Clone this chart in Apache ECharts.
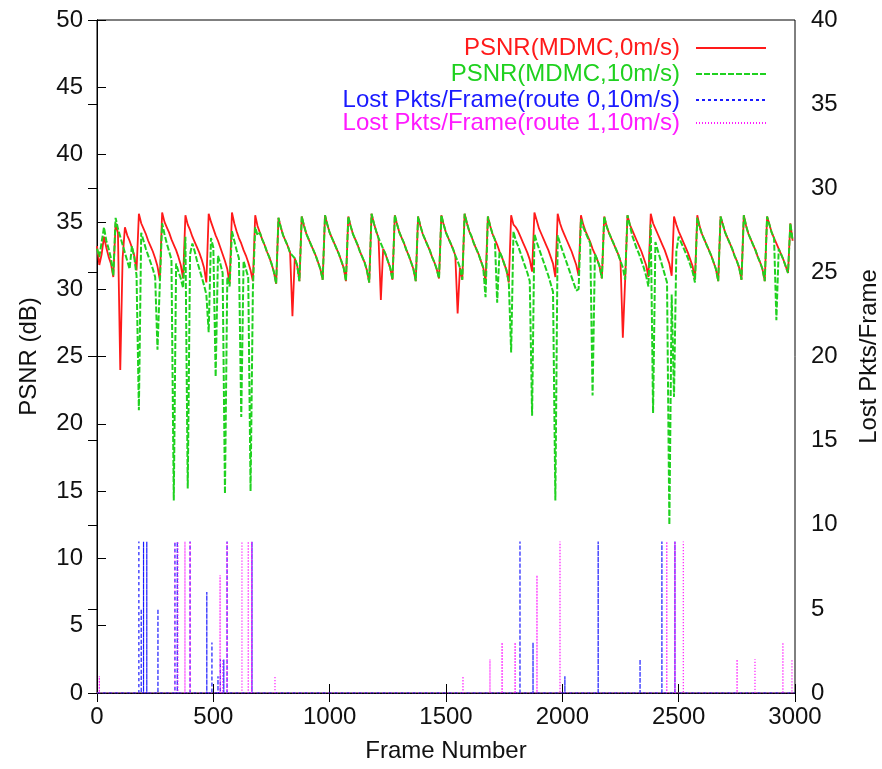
<!DOCTYPE html>
<html>
<head>
<meta charset="utf-8">
<title>PSNR / Lost Pkts per Frame</title>
<script src="https://cdn.jsdelivr.net/npm/echarts@6/dist/echarts.min.js"></script>
<style>
  html, body { margin: 0; padding: 0; background: #fff; }
  #psnrChart { width: 882px; height: 769px; }
</style>
</head>
<body>
<div id="psnrChart"></div>
<script>
// one PSNR sample every 10 frames, one row per 100 frames
const frameStep = 10;

const psnrStill = [
  33.2, 31.8, 32.6, 33.9, 33.1, 32.4, 31.9, 30.9, 34.9, 34.2,
  24.0, 32.3, 34.6, 34.0, 33.6, 33.1, 32.5, 31.4, 35.6, 34.9,
  34.5, 34.1, 33.6, 33.2, 32.8, 32.3, 31.7, 30.7, 35.7, 35.0,
  34.6, 34.2, 33.7, 33.3, 32.9, 32.4, 31.8, 30.8, 35.5, 34.8,
  34.4, 33.9, 33.5, 33.1, 32.7, 32.2, 31.6, 30.5, 35.6, 35.0,
  34.5, 34.0, 33.6, 33.1, 32.6, 32.1, 31.5, 30.4, 35.7, 34.9,
  34.3, 33.8, 33.4, 32.9, 32.5, 32.0, 31.4, 30.6, 35.5, 34.7,
  34.2, 33.7, 33.3, 32.8, 32.4, 31.9, 31.3, 30.4, 35.3, 34.6,
  34.0, 33.6, 33.2, 32.7, 28.0, 32.3, 31.8, 30.6, 35.4, 34.7,
  34.1, 33.7, 33.3, 32.9, 32.5, 32.0, 31.5, 30.7, 35.5, 34.8,
  34.2, 33.8, 33.4, 33.0, 32.6, 32.1, 31.6, 30.6, 35.4, 34.7,
  34.1, 33.7, 33.3, 32.8, 32.4, 32.0, 31.4, 30.5, 35.6, 34.9,
  34.3, 33.8, 29.2, 33.0, 32.6, 32.1, 31.6, 30.7, 35.5, 34.8,
  34.2, 33.8, 33.4, 32.9, 32.5, 32.0, 31.5, 30.6, 35.4, 34.7,
  34.1, 33.7, 33.3, 32.9, 32.4, 32.0, 31.5, 30.8, 35.5, 34.8,
  34.2, 33.8, 33.4, 33.0, 32.5, 28.2, 31.6, 30.7, 35.6, 34.9,
  34.3, 33.9, 33.4, 33.0, 32.6, 32.1, 31.6, 30.6, 35.4, 34.7,
  34.1, 33.7, 33.3, 32.8, 32.4, 31.9, 31.4, 30.5, 35.5, 34.8,
  34.6, 34.3, 33.9, 33.5, 33.1, 32.7, 32.2, 31.3, 35.7, 35.1,
  34.5, 34.1, 33.7, 33.3, 32.9, 32.4, 31.9, 30.9, 35.6, 34.9,
  34.4, 34.0, 33.6, 33.2, 32.8, 32.3, 31.8, 31.0, 35.5, 34.8,
  34.3, 33.9, 33.5, 33.0, 32.6, 32.2, 31.7, 30.8, 35.4, 34.7,
  34.2, 33.8, 33.4, 33.0, 32.6, 32.1, 26.4, 30.7, 35.5, 34.8,
  34.4, 34.0, 33.6, 33.2, 32.8, 32.3, 31.8, 30.9, 35.6, 34.9,
  34.5, 34.1, 33.7, 33.3, 32.9, 32.4, 31.9, 31.0, 35.4, 34.8,
  34.3, 33.9, 33.5, 33.1, 32.7, 32.2, 31.7, 30.7, 35.5, 34.7,
  34.1, 33.7, 33.3, 32.9, 32.5, 32.0, 31.5, 30.6, 35.4, 34.8,
  34.2, 33.8, 33.4, 33.0, 32.5, 32.1, 31.6, 30.7, 35.5, 34.7,
  34.1, 33.7, 33.3, 32.9, 32.4, 32.0, 31.5, 30.6, 35.4, 34.8,
  34.2, 33.8, 33.4, 33.0, 32.6, 32.2, 31.7, 31.2, 34.9, 33.6
];

const psnrMoving = [
  33.0, 32.4, 33.5, 34.6, 33.6, 33.0, 32.3, 31.0, 35.3, 34.5,
  33.9, 33.3, 32.7, 32.1, 31.5, 33.2, 32.4, 31.0, 21.0, 34.2,
  33.6, 33.0, 32.5, 32.0, 31.5, 30.9, 25.5, 30.4, 34.9, 34.1,
  33.4, 32.8, 32.2, 14.3, 31.9, 31.3, 30.8, 30.1, 33.9, 15.2,
  32.6, 33.4, 32.8, 32.1, 31.5, 30.9, 30.3, 29.6, 26.8, 33.8,
  33.1, 23.5, 32.5, 31.9, 31.2, 14.8, 30.9, 30.2, 34.3, 33.6,
  32.9, 32.3, 20.5, 32.1, 31.5, 30.9, 15.0, 30.0, 34.6, 34.0,
  34.2, 33.7, 33.3, 32.8, 32.4, 31.9, 31.3, 30.4, 35.3, 34.6,
  34.0, 33.6, 33.2, 32.7, 32.5, 32.3, 31.8, 30.6, 35.4, 34.7,
  34.1, 33.7, 33.3, 32.9, 32.5, 32.0, 31.5, 30.7, 35.5, 34.8,
  34.2, 33.8, 33.4, 33.0, 32.6, 32.1, 31.6, 30.6, 35.4, 34.7,
  34.1, 33.7, 33.3, 32.8, 32.4, 32.0, 31.4, 30.5, 35.6, 34.9,
  34.3, 33.8, 33.4, 33.0, 32.6, 32.1, 31.6, 30.7, 35.5, 34.8,
  34.2, 33.8, 33.4, 32.9, 32.5, 32.0, 31.5, 30.6, 35.4, 34.7,
  34.1, 33.7, 33.3, 32.9, 32.4, 32.0, 31.5, 30.8, 35.5, 34.8,
  34.2, 33.8, 33.4, 33.0, 32.5, 32.1, 31.6, 30.7, 35.6, 34.9,
  34.3, 33.9, 33.4, 33.0, 32.6, 32.1, 31.6, 29.4, 35.4, 34.7,
  34.1, 33.7, 29.0, 32.8, 32.4, 31.9, 31.4, 30.5, 25.3, 34.3,
  33.6, 33.2, 32.7, 32.2, 31.7, 31.2, 30.6, 20.6, 34.1, 33.5,
  33.0, 32.5, 32.0, 31.5, 31.0, 30.4, 29.8, 14.3, 34.0, 33.4,
  32.9, 32.4, 31.9, 31.4, 30.9, 30.4, 29.9, 30.0, 35.2, 34.6,
  34.2, 33.8, 33.4, 22.1, 32.6, 32.2, 31.7, 30.8, 35.4, 34.7,
  34.2, 33.8, 33.4, 33.0, 32.6, 32.1, 31.6, 30.7, 35.5, 34.8,
  34.0, 33.5, 33.0, 32.6, 32.1, 31.6, 31.0, 30.2, 34.8, 20.8,
  33.5, 32.9, 32.3, 31.7, 31.1, 30.5, 12.5, 29.6, 22.0, 32.8,
  33.9, 33.5, 33.1, 32.7, 32.3, 31.8, 31.3, 30.5, 35.3, 34.6,
  34.1, 33.7, 33.3, 32.9, 32.5, 32.0, 31.5, 30.6, 35.4, 34.8,
  34.2, 33.8, 33.4, 33.0, 32.5, 32.1, 31.6, 30.7, 35.5, 34.7,
  34.1, 33.7, 33.3, 32.9, 32.4, 32.0, 31.5, 30.6, 35.4, 34.8,
  34.2, 33.8, 27.7, 33.0, 32.6, 32.2, 31.7, 31.2, 34.9, 33.6
];

// lost packets per frame, only frames with losses are listed
const lostRoute0Frames = [180, 190, 200, 214, 262, 335, 345, 400, 472, 494, 520, 530, 545, 559, 666,
  1818, 1874, 2011, 2154, 2334, 2428, 2484];
const lostRoute0Values = [9, 5, 9, 9, 5, 9, 9, 9, 6, 3, 1, 2, 2, 9, 9,
  9, 3, 1, 9, 2, 9, 9];
const lostRoute1Frames = [10, 335, 348, 378, 400, 529, 540, 559, 623, 650, 665, 765,
  1573, 1689, 1741, 1797, 1891, 1990, 2449, 2484, 2520, 2751, 2828, 2948, 2987];
const lostRoute1Values = [1, 9, 9, 9, 9, 7, 2, 9, 9, 9, 9, 1,
  1, 2, 3, 3, 7, 9, 9, 9, 9, 2, 2, 3, 2];

const seriesNames = [
  "PSNR(MDMC,0m/s)",
  "PSNR(MDMC,10m/s)",
  "Lost Pkts/Frame(route 0,10m/s)",
  "Lost Pkts/Frame(route 1,10m/s)"
];
const seriesColors = ["#ff1a1a", "#1fd11f", "#1a1aff", "#ff1aff"];

const xTicks = { min: 0, max: 3000, interval: 500 };
const psnrTicks = { min: 0, max: 50, interval: 5 };
const lostTicks = { min: 0, max: 40, interval: 5 };

const fontFamily = "Liberation Sans, Arial, Helvetica, sans-serif";

/**
 * PSNR samples -> [frame, value]
 */
function toPsnrPoints(values) {
  return values.map((v, i) => [i * frameStep, v]);
}

/**
 * Loss counts -> vertical spikes dropping back to zero
 */
function toSpikes(frames, values) {
  const pts = [[0, 0]];
  frames.forEach((f, i) => {
    pts.push([f, 0], [f, values[i]], [f, 0]);
  });
  pts.push([2999, 0]);
  return pts;
}

function makeLegend(index, top) {
  return {
    data: [{ name: seriesNames[index], textStyle: { color: seriesColors[index] } }],
    orient: "vertical",
    align: "right",
    right: 110,
    top: top,
    itemWidth: 70,
    itemHeight: 14,
    selectedMode: false,
    // hide the symbol, keep the line sample
    itemStyle: { opacity: 0 },
    textStyle: {
      fontFamily: fontFamily,
      fontSize: 24,
      lineHeight: 24,
      padding: [0, 11, 0, 0]
    }
  };
}

function axisCommon() {
  return {
    axisLine: { show: true, lineStyle: { color: "#000", width: 1 } },
    axisTick: { show: true, inside: true, length: 9, lineStyle: { color: "#000" } },
    splitLine: { show: false },
    nameTextStyle: { color: "#111", fontSize: 24, fontFamily: fontFamily }
  };
}

function labelStyle(margin) {
  return {
    color: "#111",
    fontSize: 24,
    fontFamily: fontFamily,
    margin: margin,
    formatter: (v) => String(v)
  };
}

function settingsPsnr() {
  return {
    animation: false,
    backgroundColor: "#fff",
    grid: {
      left: 97,
      right: 87,
      top: 20,
      bottom: 76,
      outerBoundsMode: "none",
      show: true,
      borderColor: "#000",
      borderWidth: 1
    },
    legend: [makeLegend(0, 31), makeLegend(1, 57), makeLegend(2, 83), makeLegend(3, 106)],
    xAxis: [
      Object.assign(axisCommon(), {
        type: "value",
        min: xTicks.min,
        max: xTicks.max,
        interval: xTicks.interval,
        name: "Frame Number",
        nameLocation: "middle",
        nameGap: 46,
        axisLabel: labelStyle(12)
      }),
      Object.assign(axisCommon(), {
        type: "value",
        position: "top",
        min: xTicks.min,
        max: xTicks.max,
        interval: xTicks.interval,
        axisLabel: { show: false }
      })
    ],
    yAxis: [
      Object.assign(axisCommon(), {
        type: "value",
        min: psnrTicks.min,
        max: psnrTicks.max,
        interval: psnrTicks.interval,
        name: "PSNR (dB)",
        nameLocation: "middle",
        nameRotate: 90,
        nameGap: 56,
        axisLabel: labelStyle(14)
      }),
      Object.assign(axisCommon(), {
        type: "value",
        position: "right",
        min: lostTicks.min,
        max: lostTicks.max,
        interval: lostTicks.interval,
        name: "Lost Pkts/Frame",
        nameLocation: "middle",
        nameRotate: 90,
        nameGap: 62,
        axisLabel: labelStyle(16)
      })
    ],
    series: [
      {
        name: seriesNames[0],
        type: "line",
        symbol: "none",
        color: seriesColors[0],
        lineStyle: { width: 1.8, color: seriesColors[0] },
        data: toPsnrPoints(psnrStill)
      },
      {
        name: seriesNames[1],
        type: "line",
        symbol: "none",
        color: seriesColors[1],
        lineStyle: { width: 2, color: seriesColors[1], type: [6, 2] },
        data: toPsnrPoints(psnrMoving)
      },
      {
        name: seriesNames[2],
        type: "line",
        symbol: "none",
        yAxisIndex: 1,
        color: seriesColors[2],
        lineStyle: { width: 1.2, color: seriesColors[2], type: [3, 3] },
        data: toSpikes(lostRoute0Frames, lostRoute0Values)
      },
      {
        name: seriesNames[3],
        type: "line",
        symbol: "none",
        yAxisIndex: 1,
        color: seriesColors[3],
        lineStyle: { width: 1.2, color: seriesColors[3], type: [1, 2] },
        data: toSpikes(lostRoute1Frames, lostRoute1Values)
      }
    ]
  };
}

const dom = document.getElementById("psnrChart");
const myChart = echarts.init(dom, null, { renderer: "canvas" });
myChart.setOption(settingsPsnr());
</script>
</body>
</html>
